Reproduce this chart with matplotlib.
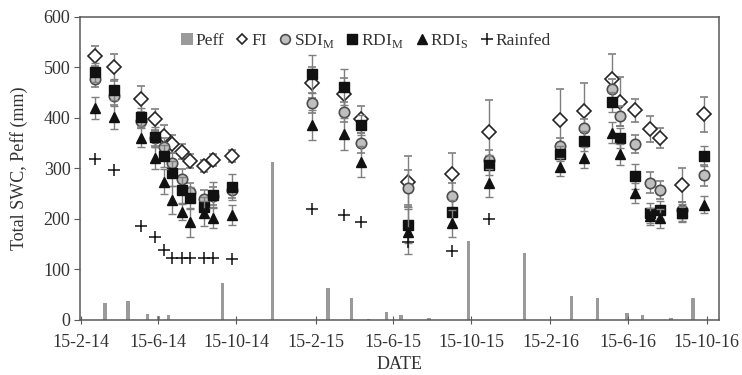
import matplotlib
matplotlib.use("Agg")
import matplotlib.pyplot as plt
from matplotlib.patches import Patch
from matplotlib.lines import Line2D
import numpy as np
import datetime as dt

plt.rcParams["font.family"] = ["Liberation Serif", "DejaVu Serif"]
plt.rcParams["mathtext.fontset"] = "custom"
plt.rcParams["mathtext.rm"] = "Liberation Serif"

# sampling dates for soil water content
dates = [
    "2014-03-09", "2014-04-08", "2014-05-20", "2014-06-10", "2014-06-24",
    "2014-07-07", "2014-07-22", "2014-08-03", "2014-08-26", "2014-09-09",
    "2014-10-08",
    "2015-02-10", "2015-03-31", "2015-04-27", "2015-07-08", "2015-09-15",
    "2015-11-12",
    "2016-03-01", "2016-04-07", "2016-05-21", "2016-06-02", "2016-06-25",
    "2016-07-19", "2016-08-04", "2016-09-07", "2016-10-11",
]

fi = [523, 500, 437, 397, 364, 348, 333, 315, 305, 316, 325,
      470, 448, 397, 274, 289, 373,
      396, 414, 476, 432, 415, 378, 360, 267, 407]
sdi_m = [477, 444, 394, 360, 342, 310, 278, 253, 239, 245, 257,
         430, 411, 350, 262, 246, 316,
         345, 380, 457, 404, 348, 272, 257, 218, 286]
rdi_m = [490, 456, 401, 362, 325, 290, 257, 241, 224, 248, 263,
         487, 461, 386, 188, 213, 307,
         329, 354, 431, 360, 284, 211, 217, 211, 325]
rdi_s = [419, 401, 361, 320, 274, 238, 214, 193, 211, 201, 208,
         386, 368, 313, 175, 191, 271,
         302, 321, 371, 328, 251, 205, 201, 212, 228]
rainfed = [318, 297, 185, 164, 139, 123, 123, 123, 123, 123, 121,
           220, 208, 193, 154, 137, 200,
           np.nan, np.nan, np.nan, np.nan, np.nan, np.nan, np.nan, np.nan, np.nan]

fi_err = [20, 26, 26, 21, 21, 18, 15, 14, 12, 12, 12,
          30, 30, 27, 51, 41, 63,
          61, 56, 50, 48, 23, 25, 19, 33, 35]
sdi_m_err = [15, 18, 15, 15, 18, 20, 20, 18, 18, 18, 15,
             20, 20, 20, 35, 25, 20,
             15, 18, 20, 20, 18, 20, 18, 15, 20]
rdi_m_err = [18, 20, 18, 20, 22, 25, 25, 22, 20, 25, 25,
             38, 35, 20, 35, 25, 20,
             15, 20, 20, 20, 25, 20, 18, 15, 20]
rdi_s_err = [22, 23, 19, 22, 25, 28, 16, 29, 25, 20, 20,
             30, 31, 31, 45, 26, 27,
             18, 21, 20, 21, 20, 17, 19, 18, 17]

# effective precipitation events
peff_dates = [
    "2014-03-25", "2014-04-29", "2014-05-30", "2014-06-16", "2014-07-01",
    "2014-09-23", "2014-12-10", "2015-03-06", "2015-04-12", "2015-05-08",
    "2015-06-05", "2015-06-28", "2015-08-10", "2015-10-11", "2016-01-06",
    "2016-03-19", "2016-04-28", "2016-06-13", "2016-07-07", "2016-08-20",
    "2016-09-24",
]
peff = [33, 38, 11, 8, 9, 73, 313, 63, 43, 2, 15, 10, 4, 157, 133,
        48, 43, 13, 9, 3, 44]

tick_labels = ["15-2-14", "15-6-14", "15-10-14", "15-2-15", "15-6-15",
               "15-10-15", "15-2-16", "15-6-16", "15-10-16"]


def to_dt(s):
    return dt.datetime.strptime(s, "%Y-%m-%d")


x = [to_dt(d) for d in dates]
xp = [to_dt(d) for d in peff_dates]

fig = plt.figure(figsize=(7.42, 3.75), dpi=100)
ax = fig.add_axes([0.108, 0.147, 0.861, 0.808])

bar_color = "#9a9a9a"
err_color = "#7f7f7f"
edge = "#262626"

ax.bar(xp, peff, width=5.5, color=bar_color, linewidth=0, zorder=1)

ebkw = dict(ecolor=err_color, elinewidth=1.0, capsize=2.8, capthick=1.0,
            linestyle="none")
ax.errorbar(x, fi, yerr=fi_err, marker="D", ms=6.8, mfc="white", mec=edge,
            mew=1.2, zorder=3, **ebkw)
ax.errorbar(x, sdi_m, yerr=sdi_m_err, marker="o", ms=7.5, mfc="#bfbfbf",
            mec="#4d4d4d", mew=1.2, zorder=4, **ebkw)
ax.errorbar(x, rdi_m, yerr=rdi_m_err, marker="s", ms=7, mfc="#111111",
            mec="#111111", zorder=5, **ebkw)
ax.errorbar(x, rdi_s, yerr=rdi_s_err, marker="^", ms=7.5, mfc="#111111",
            mec="#111111", zorder=6, **ebkw)
ax.plot(x, rainfed, linestyle="none", marker="+", ms=8, mew=1.1,
        color="#111111", zorder=7)

ax.set_ylim(0, 600)
ax.set_yticks(range(0, 601, 100))
ax.set_xlim(to_dt("2014-02-14"), to_dt("2016-11-03"))
ticks = [to_dt(s) for s in ["2014-02-15", "2014-06-15", "2014-10-15",
                            "2015-02-15", "2015-06-15", "2015-10-15",
                            "2016-02-15", "2016-06-15", "2016-10-15"]]
ax.set_xticks(ticks)
ax.set_xticklabels(tick_labels)

for sp in ax.spines.values():
    sp.set_color("#595959")
    sp.set_linewidth(1.1)
ax.tick_params(axis="y", direction="out", length=4, color="#595959",
               labelsize=13, labelcolor="#333333", pad=3)
ax.tick_params(axis="x", direction="inout", length=6, color="#595959",
               labelsize=13, labelcolor="#333333", pad=7)

ax.set_xlabel("DATE", fontsize=13, color="#333333", labelpad=4)
ax.set_ylabel("Total SWC, Peff (mm)", fontsize=13, color="#333333",
              labelpad=11)

handles = [
    Patch(facecolor=bar_color, edgecolor="none"),
    Line2D([], [], linestyle="none", marker="D", ms=5.5, mfc="white",
           mec=edge, mew=1.2),
    Line2D([], [], linestyle="none", marker="o", ms=7, mfc="#bfbfbf",
           mec="#4d4d4d", mew=1.2),
    Line2D([], [], linestyle="none", marker="s", ms=7, mfc="#111111",
           mec="#111111"),
    Line2D([], [], linestyle="none", marker="^", ms=7, mfc="#111111",
           mec="#111111"),
    Line2D([], [], linestyle="none", marker="+", ms=8, mew=1.1,
           color="#111111"),
]
labels = ["Peff", "FI", r"SDI$_\mathrm{M}$", r"RDI$_\mathrm{M}$",
          r"RDI$_\mathrm{S}$", "Rainfed"]
leg = ax.legend(handles, labels, loc="center", bbox_to_anchor=(0.447, 0.92),
                ncol=6, frameon=False, fontsize=12.5, handlelength=0.7,
                handletextpad=0.15, columnspacing=0.7, borderpad=0.2)
for t in leg.get_texts():
    t.set_color("#333333")

fig.savefig("out.png", dpi=100)
